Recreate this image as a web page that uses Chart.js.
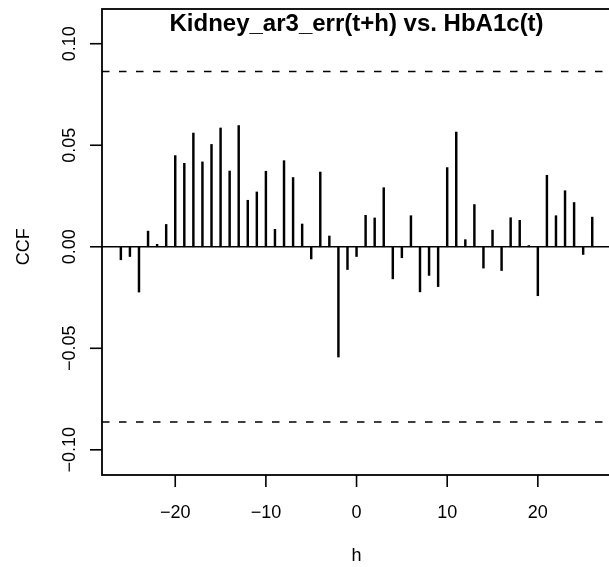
<!DOCTYPE html>
<html>
<head>
<meta charset="utf-8">
<script src="https://cdn.jsdelivr.net/npm/chart.js@4"></script>
<style>
  html, body { margin: 0; padding: 0; background: #fff; overflow: hidden; }
  canvas { display: block; }
</style>
</head>
<body>
<canvas id="ccf" width="609" height="567"></canvas>
<script>
// cross-correlation of Kidney_ar3_err(t+h) with HbA1c(t), lags -26..26
const lags = [
  -26, -25, -24, -23, -22, -21, -20, -19, -18, -17, -16, -15, -14, -13, -12, -11, -10, -9,
  -8, -7, -6, -5, -4, -3, -2, -1, 0, 1, 2, 3, 4, 5, 6, 7, 8, 9,
  10, 11, 12, 13, 14, 15, 16, 17, 18, 19, 20, 21, 22, 23, 24, 25, 26
];
const ccfValues = [
  -0.0064, -0.0048, -0.0223, 0.0077, 0.0012, 0.0110, 0.0449, 0.0411, 0.0560, 0.0418, 0.0504, 0.0585, 0.0373, 0.0597, 0.0229, 0.0270, 0.0372, 0.0086,
  0.0424, 0.0341, 0.0112, -0.0060, 0.0368, 0.0053, -0.0543, -0.0112, -0.0048, 0.0155, 0.0142, 0.0291, -0.0158, -0.0054, 0.0153, -0.0222, -0.0141, -0.0196,
  0.0390, 0.0565, 0.0035, 0.0208, -0.0105, 0.0082, -0.0117, 0.0143, 0.0130, 0.0006, -0.0241, 0.0352, 0.0153, 0.0276, 0.0218, -0.0038, 0.0146
];
const confBound = 0.0863;
const xTicks = [-20, -10, 0, 10, 20];
const yTicks = [-0.10, -0.05, 0.00, 0.05, 0.10];
const titleText = 'Kidney_ar3_err(t+h) vs. HbA1c(t)';
const xLabel = 'h';
const yLabel = 'CCF';

const FONT = '"Liberation Sans", Arial, Helvetica, sans-serif';
const fmt = (v, d) => (v < 0 ? '\u2212' : '') + Math.abs(v).toFixed(d);

// R-style frame, ticks, reference lines and labels
const rFrame = {
  id: 'rFrame',
  afterDatasetsDraw(chart) {
    const { ctx, chartArea: a, scales: { x, y } } = chart;
    ctx.save();
    ctx.strokeStyle = '#000';
    ctx.fillStyle = '#000';

    // zero line
    ctx.lineWidth = 1.6;
    const y0 = y.getPixelForValue(0);
    ctx.beginPath();
    ctx.moveTo(a.left, y0);
    ctx.lineTo(a.right, y0);
    ctx.stroke();

    // confidence bounds
    ctx.setLineDash([7.5, 9.5]);
    ctx.lineWidth = 1.6;
    [confBound, -confBound].forEach(c => {
      const py = y.getPixelForValue(c);
      ctx.beginPath();
      ctx.moveTo(a.left, py);
      ctx.lineTo(a.right, py);
      ctx.stroke();
    });
    ctx.setLineDash([]);

    // box (right side falls past the canvas)
    ctx.lineWidth = 1.8;
    ctx.strokeRect(a.left, a.top, a.right + 3 - a.left, a.bottom - a.top);

    // x ticks
    ctx.lineWidth = 1.6;
    ctx.font = '18px ' + FONT;
    ctx.textAlign = 'center';
    ctx.textBaseline = 'alphabetic';
    xTicks.forEach(t => {
      const px = x.getPixelForValue(t);
      ctx.beginPath();
      ctx.moveTo(px, a.bottom);
      ctx.lineTo(px, a.bottom + 12);
      ctx.stroke();
      ctx.fillText(t === 0 ? '0' : fmt(t, 0), px, 518);
    });

    // y ticks, labels rotated as in base graphics
    yTicks.forEach(t => {
      const py = y.getPixelForValue(t);
      ctx.beginPath();
      ctx.moveTo(a.left, py);
      ctx.lineTo(a.left - 12, py);
      ctx.stroke();
      ctx.save();
      ctx.translate(75, py);
      ctx.rotate(-Math.PI / 2);
      ctx.fillText(t === 0 ? '0.00' : fmt(t, 2), 0, 0);
      ctx.restore();
    });

    // axis titles
    ctx.fillText(xLabel, x.getPixelForValue(0), 561);
    ctx.save();
    ctx.translate(29, y0);
    ctx.rotate(-Math.PI / 2);
    ctx.fillText(yLabel, 0, 0);
    ctx.restore();

    // main title
    ctx.font = 'bold 24px ' + FONT;
    ctx.fillText(titleText, x.getPixelForValue(0), 31);
    ctx.restore();
  }
};

new Chart(document.getElementById('ccf'), {
  type: 'bar',
  data: {
    datasets: [{
      data: lags.map((h, i) => ({ x: h, y: ccfValues[i] })),
      backgroundColor: '#000',
      borderWidth: 0,
      barThickness: 1.8
    }]
  },
  options: {
    responsive: false,
    animation: false,
    layout: { padding: { left: 102, top: 9, right: 0, bottom: 92 } },
    plugins: { legend: { display: false }, tooltip: { enabled: false } },
    scales: {
      x: { type: 'linear', min: -28.08, max: 27.85, display: false, offset: false },
      y: { type: 'linear', min: -0.1124, max: 0.1171, display: false }
    }
  },
  plugins: [rFrame]
});
</script>
</body>
</html>
